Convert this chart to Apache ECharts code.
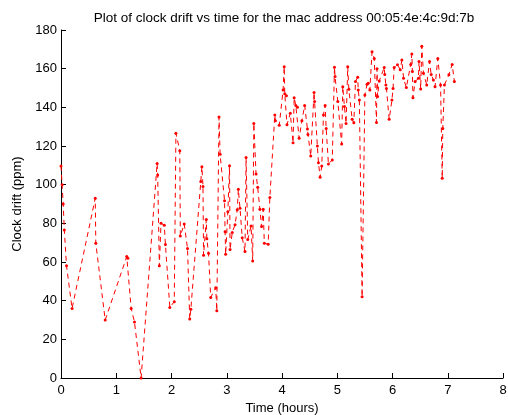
<!DOCTYPE html>
<html>
<head>
<meta charset="utf-8">
<script src="https://cdn.jsdelivr.net/npm/echarts@6/dist/echarts.min.js"></script>
<style>html,body{margin:0;padding:0;background:#fff}#c{width:508px;height:415px}</style>
</head>
<body>
<div id="c"></div>
<script>
var titleText = 'Plot of clock drift vs time for the mac address 00:05:4e:4c:9d:7b';
var xLabel = 'Time (hours)';
var yLabel = 'Clock drift (ppm)';
var xTicks = [0,1,2,3,4,5,6,7,8];
var yTicks = [0,20,40,60,80,100,120,140,160,180];

var timeHours = [
0.00,0.02,0.04,0.06,0.10,0.20,0.62,0.63,0.80,1.19,1.21,1.27,1.33,1.45,
1.74,1.75,1.78,1.81,1.87,1.89,1.97,2.05,2.08,2.15,2.16,2.23,2.29,2.33,2.35,
2.53,2.55,2.57,2.58,2.63,2.64,2.67,2.71,2.80,2.82,2.86,2.88,2.96,2.97,2.98,
3.02,3.05,3.06,3.10,3.15,3.19,3.21,3.24,3.28,3.33,3.35,3.38,3.44,3.47,3.49,
3.53,3.56,3.60,3.63,3.66,3.68,3.75,3.78,3.87,3.88,3.95,4.02,4.04,4.05,4.08,
4.09,4.15,4.20,4.22,4.25,4.28,4.31,4.36,4.41,4.46,4.47,4.52,4.58,4.59,4.64,
4.66,4.69,4.72,4.75,4.78,4.80,4.84,4.91,4.95,4.96,5.01,5.08,5.10,5.13,5.16,
5.19,5.21,5.27,5.30,5.33,5.37,5.38,5.40,5.45,5.50,5.54,5.56,5.59,5.63,5.67,
5.71,5.72,5.73,5.76,5.85,5.86,5.88,5.89,5.94,5.99,6.01,6.03,6.09,6.14,6.17,
6.20,6.25,6.33,6.35,6.36,6.37,6.41,6.47,6.48,6.51,6.53,6.56,6.62,6.67,6.70,
6.74,6.77,6.82,6.87,6.90,6.91,6.94,7.02,7.08,7.12
];
var driftPpm = [
109.7,100,90,76.5,58,36,93,69.7,30,62.8,62,36,29,0,
111,105,58,80,79,69,36.5,39.5,126.6,117.6,73.5,79.7,67,30.5,35.5,
101.6,109.3,99,63.5,82,72,64.5,41.7,46.7,34.8,135,115.7,91.7,75.7,64,
86,109.8,66.5,75.3,79.3,87,97.6,87.8,72.6,65.4,114,71.7,78.6,60.5,131.7,
105.5,98.6,87.3,78.3,87.3,69.7,69.2,93.4,136,133,130.7,149,161,147,146,
131,137,121.7,145,141,140,124,133,141,128.8,126,114.8,147.7,143,120,
111.4,103.8,109.7,136,141,129,110.7,112.8,160.7,155.9,143,121,150.7,140.4,131.7,
161,149.3,133.8,132,153.4,155.5,149,143.8,42,146.4,152,152.4,149,168.8,165.3,
132.2,160,145.6,153.6,160.6,157,151.6,149.8,133.8,143.8,149.8,160.6,162,159.5,164.5,
155,150.2,162.2,167.6,158.5,145,153.4,155,163.7,149.5,171.6,157.6,151.6,163.7,157,
154.2,150.7,165.3,151.6,103.3,129,151.6,156.8,162.2,153.4
];

var points = timeHours.map(function(t, i){ return [t, driftPpm[i]]; });
var font = 'Liberation Sans, Arial, Helvetica, sans-serif';
var chart = echarts.init(document.getElementById('c'), null, {renderer:'canvas'});
chart.setOption({
  animation:false,
  backgroundColor:'#fff',
  title:{text:titleText, left:279, top:6, textAlign:'center',
    textStyle:{fontFamily:font, fontSize:13.5, fontWeight:'normal', color:'#000'}},
  grid:{left:61, right:5, top:30, bottom:37, containLabel:false, outerBoundsMode:'none'},
  xAxis:{type:'value', min:xTicks[0], max:xTicks[xTicks.length-1], interval:1,
    name:xLabel, nameLocation:'middle', nameGap:23,
    nameTextStyle:{fontFamily:font, fontSize:13, color:'#000'},
    axisLine:{show:true, onZero:false, lineStyle:{color:'#000', width:1}},
    axisTick:{show:true, inside:true, length:5, lineStyle:{color:'#000'}},
    axisLabel:{fontFamily:font, fontSize:13, color:'#000', margin:6},
    splitLine:{show:false}},
  yAxis:{type:'value', min:yTicks[0], max:yTicks[yTicks.length-1], interval:20,
    name:yLabel, nameLocation:'middle', nameGap:22, nameRotate:90,
    nameTextStyle:{fontFamily:font, fontSize:13, color:'#000'},
    axisLine:{show:true, onZero:false, lineStyle:{color:'#000', width:1}},
    axisTick:{show:true, inside:true, length:5, lineStyle:{color:'#000'}},
    axisLabel:{fontFamily:font, fontSize:13, color:'#000', margin:4},
    splitLine:{show:false}},
  series:[{
    type:'line', data:points, showSymbol:true, symbol:'circle', symbolSize:3,
    itemStyle:{color:'#ff0000'},
    lineStyle:{color:'#ff0000', width:1, type:[5,4]},
    clip:false
  }]
});
</script>
</body>
</html>
